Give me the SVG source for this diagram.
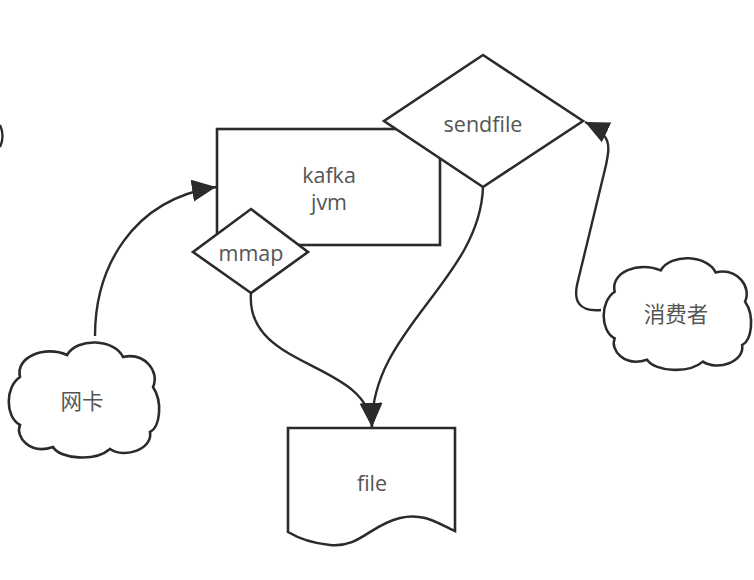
<svg xmlns="http://www.w3.org/2000/svg" width="754" height="580" viewBox="0 0 754 580">
<style>
.s{fill:#fff;stroke:#2b2b2b;stroke-width:2.6;stroke-linejoin:miter}
.c{fill:none;stroke:#2b2b2b;stroke-width:2.4}
.t{font-family:"Open Sans","Noto Sans","Noto Sans CJK SC",sans-serif;font-size:21.5px;fill:#555;text-anchor:middle;dominant-baseline:central}
</style>
<defs>
<marker id="ah" markerUnits="userSpaceOnUse" markerWidth="26" markerHeight="24" refX="24" refY="11" orient="auto">
<path d="M0,0 L24,11 L0,22 Z" fill="#2b2b2b"/>
</marker>
<path id="cloud" d="M15,40 C10,20 40,8 62,18 C72,0 110,2 118,20 C140,15 155,35 148,50 C158,65 155,90 145,95 C148,112 120,122 105,112 C90,125 55,122 48,110 C25,118 10,100 15,88 C0,80 0,50 15,40 Z"/>
</defs>
<rect width="754" height="580" fill="#fff"/>
<path class="c" d="M0,125 Q5,136 0,147"/>
<g id="kafka">
<rect class="s" x="217" y="129" width="223" height="116"/>
<text class="t" x="329" y="174">kafka</text>
<text class="t" x="329" y="201">jvm</text>
</g>
<g id="sendfile">
<polygon class="s" points="483,55 583,121 483,187 384,121"/>
<text class="t" x="483" y="123">sendfile</text>
</g>
<g id="mmap">
<polygon class="s" points="251,209 308,252 251,293 193,252"/>
<text class="t" x="251" y="252">mmap</text>
</g>
<g id="file">
<path class="s" d="M288,428 L455,428 L455,531 C440,525 425,512 400,518 C370,525 360,548 330,545 C310,543 298,538 288,532 Z"/>
<text class="t" x="372" y="482">file</text>
</g>
<g id="nic">
<use href="#cloud" class="s" transform="translate(5,337)"/>
<text class="t" x="82" y="400">网卡</text>
</g>
<g id="consumer">
<use href="#cloud" class="s" transform="translate(600,253) scale(0.98,0.97)"/>
<text class="t" x="676" y="313">消费者</text>
</g>
<g id="connectors">
<path class="c" d="M95,336 C95,270 130,200 216,187" marker-end="url(#ah)"/>
<path class="c" d="M483,187 C480,280 370,330 372,427" marker-end="url(#ah)"/>
<path class="c" d="M251,293 C245,370 368,360 372,427" marker-end="url(#ah)"/>
<path class="c" d="M601,310 C578,312 574,300 577,285 L606,165 C610,145 612,135 585,122" marker-end="url(#ah)"/>
</g>
</svg>
